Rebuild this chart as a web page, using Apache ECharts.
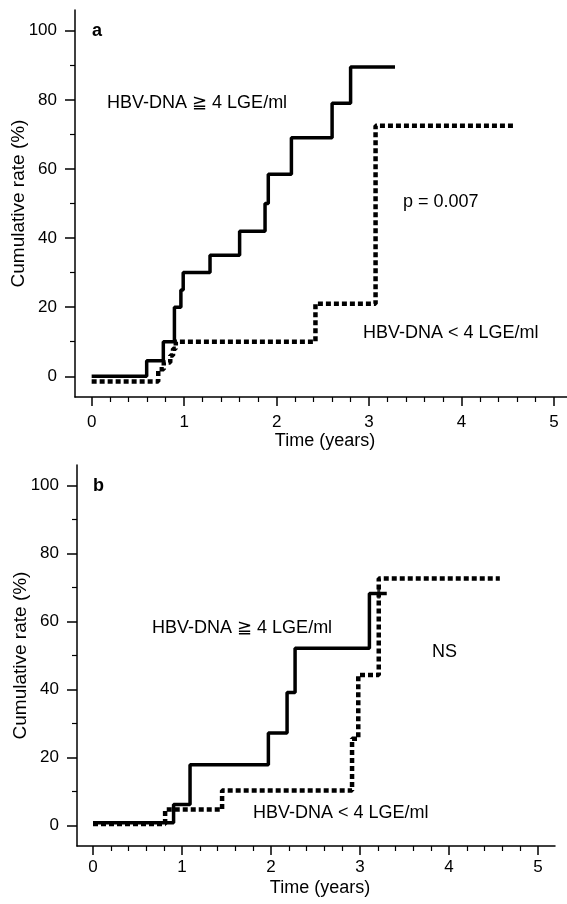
<!DOCTYPE html>
<html>
<head>
<meta charset="utf-8">
<script src="https://cdn.jsdelivr.net/npm/echarts@6/dist/echarts.min.js"></script>
<style>
html, body { margin: 0; padding: 0; background: #fff; }
#container { width: 567px; height: 904px; }
</style>
</head>
<body>
<div id="container"></div>
<script>
// panel a: HBV-DNA >= 4 LGE/ml
var timeHighA = [0, 0.595, 0.775, 0.895, 0.965, 0.99, 1.28, 1.60, 1.875, 1.91, 2.16, 2.60, 2.80, 3.28];
var rateHighA = [0, 4.5, 10, 20, 25, 30, 35, 42, 50, 58.5, 69, 79, 89.5, 89.5];
// panel a: HBV-DNA < 4 LGE/ml
var timeLowA = [0, 0.72, 0.78, 0.85, 0.88, 0.91, 2.42, 3.07, 4.56];
var rateLowA = [-1.5, 2, 4, 6, 8, 10, 21, 72.5, 72.5];
// panel b
var timeHighB = [0, 0.905, 1.09, 1.97, 2.18, 2.27, 3.105, 3.30];
var rateHighB = [0.8, 6.2, 17.9, 27.2, 39.1, 52.1, 68.2, 68.2];
var timeLowB = [0, 0.81, 1.45, 2.91, 2.98, 3.21, 4.57];
var rateLowB = [0.5, 4.7, 10.3, 25.5, 44.3, 72.6, 72.6];
var censorB = [[3.21, 68.2]];

var xMajor = [0, 1, 2, 3, 4, 5];
var xMinor = [0.2, 0.4, 0.6, 0.8, 1.2, 1.4, 1.6, 1.8, 2.2, 2.4, 2.6, 2.8, 3.2, 3.4, 3.6, 3.8, 4.2, 4.4, 4.6, 4.8, 5.2];
var yMajor = [0, 20, 40, 60, 80, 100];
var yMinor = [10, 30, 50, 70, 90];

var FONT = 'Liberation Sans, Arial, DejaVu Sans, sans-serif';

function pairs(t, v) {
    return t.map(function (x, i) { return [x, v[i]]; });
}

function xAxes(grid, max, margin, gap) {
    return [{
        gridIndex: grid, type: 'value', position: 'bottom', min: -0.18, max: max,
        axisLine: { onZero: false, lineStyle: { color: '#000', width: 1.5 } },
        axisTick: { customValues: xMajor, length: 9, lineStyle: { color: '#000', width: 1.5 } },
        axisLabel: { customValues: xMajor, margin: margin, fontSize: 17, color: '#000', fontFamily: FONT },
        splitLine: { show: false },
        name: 'Time (years)', nameLocation: 'middle', nameGap: gap, nameMoveOverlap: false,
        nameTextStyle: { fontSize: 18, color: '#000', fontFamily: FONT, padding: [0, 0, 0, 8] }
    }, {
        gridIndex: grid, type: 'value', position: 'bottom', min: -0.18, max: max,
        axisLine: { show: false, onZero: false },
        axisTick: { customValues: xMinor, length: 5, lineStyle: { color: '#000', width: 1.2 } },
        axisLabel: { show: false },
        splitLine: { show: false }
    }];
}

function yAxes(grid) {
    return [{
        gridIndex: grid, type: 'value', position: 'left', min: -6, max: 106,
        axisLine: { show: true, onZero: false, lineStyle: { color: '#000', width: 1.5 } },
        axisTick: { show: true, customValues: yMajor, length: 10, lineStyle: { color: '#000', width: 1.5 } },
        axisLabel: { customValues: yMajor, margin: 18, fontSize: 17, color: '#000', fontFamily: FONT },
        splitLine: { show: false },
        name: 'Cumulative rate (%)', nameLocation: 'middle', nameGap: 47, nameMoveOverlap: false,
        nameTextStyle: { fontSize: 19, color: '#000', fontFamily: FONT }
    }, {
        gridIndex: grid, type: 'value', position: 'left', min: -6, max: 106,
        axisLine: { show: false, onZero: false },
        axisTick: { show: true, customValues: yMinor, length: 5, lineStyle: { color: '#000', width: 1.2 } },
        axisLabel: { show: false },
        splitLine: { show: false }
    }];
}

function solid(xi, yi, data) {
    return { type: 'line', xAxisIndex: xi, yAxisIndex: yi, step: 'end', symbol: 'none', data: data,
        lineStyle: { color: '#000', width: 3.5 }, z: 3 };
}
function dashed(xi, yi, data) {
    return { type: 'line', xAxisIndex: xi, yAxisIndex: yi, step: 'end', symbol: 'none', data: data,
        lineStyle: { color: '#000', width: 4.5, type: [5, 3] }, z: 4 };
}

function label(text, x, y, bold) {
    return { type: 'text', x: x, y: y, style: { text: text, fill: '#000', fontSize: 18,
        fontFamily: FONT, fontWeight: bold ? 'bold' : 'normal', verticalAlign: 'middle', align: 'left' } };
}

var chart = echarts.init(document.getElementById('container'));
chart.setOption({
    animation: false,
    backgroundColor: '#fff',
    grid: [
        { left: 75, top: 10, right: 0, height: 387, outerBoundsMode: 'none', containLabel: false },
        { left: 77, top: 465, width: 478, height: 381, outerBoundsMode: 'none', containLabel: false }
    ],
    xAxis: xAxes(0, 5.14, 17, 35).concat(xAxes(1, 5.19, 13, 33)),
    yAxis: yAxes(0).concat(yAxes(1)),
    series: [
        solid(0, 0, pairs(timeHighA, rateHighA)),
        dashed(0, 0, pairs(timeLowA, rateLowA)),
        solid(2, 2, pairs(timeHighB, rateHighB)),
        dashed(2, 2, pairs(timeLowB, rateLowB)),
        { type: 'scatter', xAxisIndex: 2, yAxisIndex: 2, data: censorB, symbol: 'rect',
          symbolSize: [3, 10], itemStyle: { color: '#000' }, z: 5 }
    ],
    graphic: [
        label('a', 92, 31, true),
        label('HBV-DNA ≧ 4 LGE/ml', 107, 103),
        label('p = 0.007', 403, 202),
        label('HBV-DNA < 4 LGE/ml', 363, 333),
        label('b', 93, 486, true),
        label('HBV-DNA ≧ 4 LGE/ml', 152, 628),
        label('NS', 432, 652),
        label('HBV-DNA < 4 LGE/ml', 253, 813)
    ]
});
</script>
</body>
</html>
